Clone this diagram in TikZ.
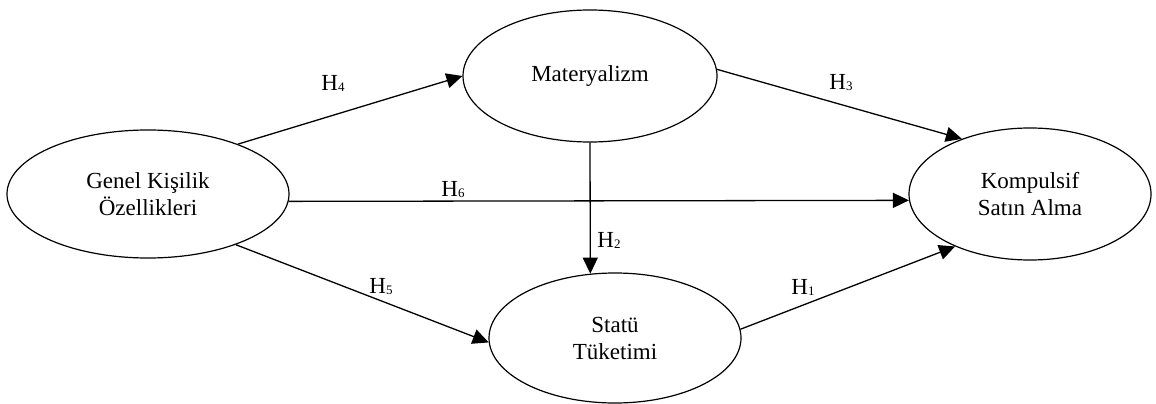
\documentclass[tikz,border=0pt]{standalone}
\usepackage{fontspec}
\setmainfont{Liberation Serif}
\usetikzlibrary{shapes.geometric,arrows.meta}
\tikzset{
  var/.style={draw=black, line width=1.2pt, ellipse, inner sep=0pt, align=center,
    font=\fontsize{23}{27}\selectfont},
  link/.style={line width=1.3pt, -{Triangle[length=16pt,width=15pt]}},
  hlab/.style={font=\fontsize{23}{27}\selectfont, inner sep=0pt}
}
\newcommand{\hyp}[1]{H\raisebox{-1pt}{\fontsize{13}{13}\selectfont #1}}
\begin{document}
\begin{tikzpicture}[x=1pt,y=-1pt]
\useasboundingbox (0,0) rectangle (1156,404);
\node[var, minimum width=282pt, minimum height=128pt] (gen) at (148,194) {Genel Kişilik\\Özellikleri};
\node[var, minimum width=254pt, minimum height=132pt] (mat) at (590,76) {Materyalizm};
\node[var, minimum width=252pt, minimum height=130pt] (stat) at (615,338) {Statü\\Tüketimi};
\node[var, minimum width=242pt, minimum height=132pt] (komp) at (1030,194) {Kompulsif\\Satın Alma};

\draw[link] (gen.29) -- (mat.west);
\draw[link] (mat.3) -- (komp.141);
\draw[link] (gen.-3) -- (komp.183);
\draw[link] (mat.south) -- (stat.111);
\draw[link] (gen.-30) -- (stat.182);
\draw[link] (stat.4) -- (komp.215);

\node[hlab] (h4) at (333,83) {\hyp{4}};
\node[hlab] (h3) at (841,83) {\hyp{3}};
\node[hlab] (h6) at (453,190) {\hyp{6}};
\node[hlab] (h2) at (609,240) {\hyp{2}};
\node[hlab] (h5) at (381,287) {\hyp{5}};
\node[hlab] (h1) at (803,287) {\hyp{1}};
\end{tikzpicture}
\end{document}
